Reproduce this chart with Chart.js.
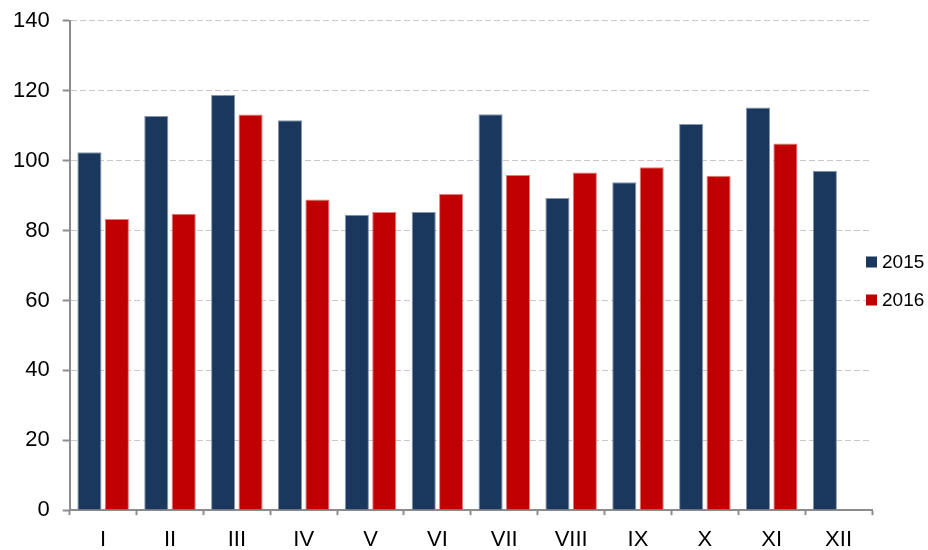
<!DOCTYPE html>
<html>
<head>
<meta charset="utf-8">
<script src="https://cdn.jsdelivr.net/npm/chart.js@4"></script>
<style>
  html, body { margin: 0; padding: 0; background: #fff; }
  #wrap { width: 928px; height: 550px; position: relative; }
</style>
</head>
<body>
<div id="wrap"><canvas id="c" width="928" height="550"></canvas></div>
<script>
const categories = ['I', 'II', 'III', 'IV', 'V', 'VI', 'VII', 'VIII', 'IX', 'X', 'XI', 'XII'];
const seriesNames = ['2015', '2016'];
const values2015 = [102.4, 112.8, 118.8, 111.6, 84.5, 85.3, 113.3, 89.3, 93.8, 110.5, 115.2, 97.1];
const values2016 = [83.3, 84.8, 113.2, 88.9, 85.3, 90.5, 95.9, 96.6, 98.1, 95.7, 104.9, null];
const yTicks = [0, 20, 40, 60, 80, 100, 120, 140];

const FONT = '"Liberation Sans", Arial, sans-serif';
const NAVY = '#1A375E';
const RED = '#C00000';

const customLegend = {
  id: 'customLegend',
  afterDraw(chart) {
    const ctx = chart.ctx;
    const area = chart.chartArea;
    const x0 = area.right - 6;
    const yCenter = 281;
    const spacing = 38;
    ctx.save();
    ctx.font = '19px ' + FONT;
    ctx.textBaseline = 'middle';
    ctx.textAlign = 'left';
    chart.data.datasets.forEach((ds, i) => {
      const cy = yCenter + (i - 0.5) * spacing;
      ctx.fillStyle = ds.backgroundColor;
      ctx.fillRect(x0, cy - 5.5, 11, 11);
      ctx.fillStyle = '#000';
      ctx.fillText(ds.label, x0 + 16, cy + 1);
    });
    ctx.restore();
  }
};

const chart = new Chart(document.getElementById('c'), {
  type: 'bar',
  data: {
    labels: categories,
    datasets: [
      { label: seriesNames[0], data: values2015, backgroundColor: NAVY, borderColor: '#8596ad', borderWidth: 1 },
      { label: seriesNames[1], data: values2016, backgroundColor: RED, borderColor: '#e47a7a', borderWidth: 1 }
    ]
  },
  options: {
    responsive: false,
    animation: false,
    devicePixelRatio: 1,
    layout: { padding: { left: 0, right: 56, top: 10, bottom: -15.5 } },
    datasets: { bar: { categoryPercentage: 0.82, barPercentage: 0.88 } },
    plugins: {
      legend: { display: false },
      tooltip: { enabled: false }
    },
    scales: {
      x: {
        grid: {
          offset: true,
          drawOnChartArea: false,
          drawTicks: true,
          tickLength: 5,
          tickColor: '#8c8c8c',
          tickWidth: 2
        },
        border: { display: true, color: '#8c8c8c', width: 2 },
        ticks: { color: '#000', font: { family: FONT, size: 22 }, padding: 12, maxRotation: 0 }
      },
      y: {
        min: 0,
        max: 140,
        afterBuildTicks(scale) { scale.ticks = yTicks.map(v => ({ value: v })); },
        grid: {
          color: '#c8c8c8',
          lineWidth: 1,
          drawTicks: true,
          tickLength: 7,
          tickColor: '#8c8c8c',
          tickWidth: 2,
          tickBorderDash: []
        },
        border: { display: true, color: '#8c8c8c', width: 2, dash: [6, 3] },
        ticks: { color: '#000', font: { family: FONT, size: 22, lineHeight: 0.72 }, padding: 13 }
      }
    }
  },
  plugins: [customLegend]
});
</script>
</body>
</html>
